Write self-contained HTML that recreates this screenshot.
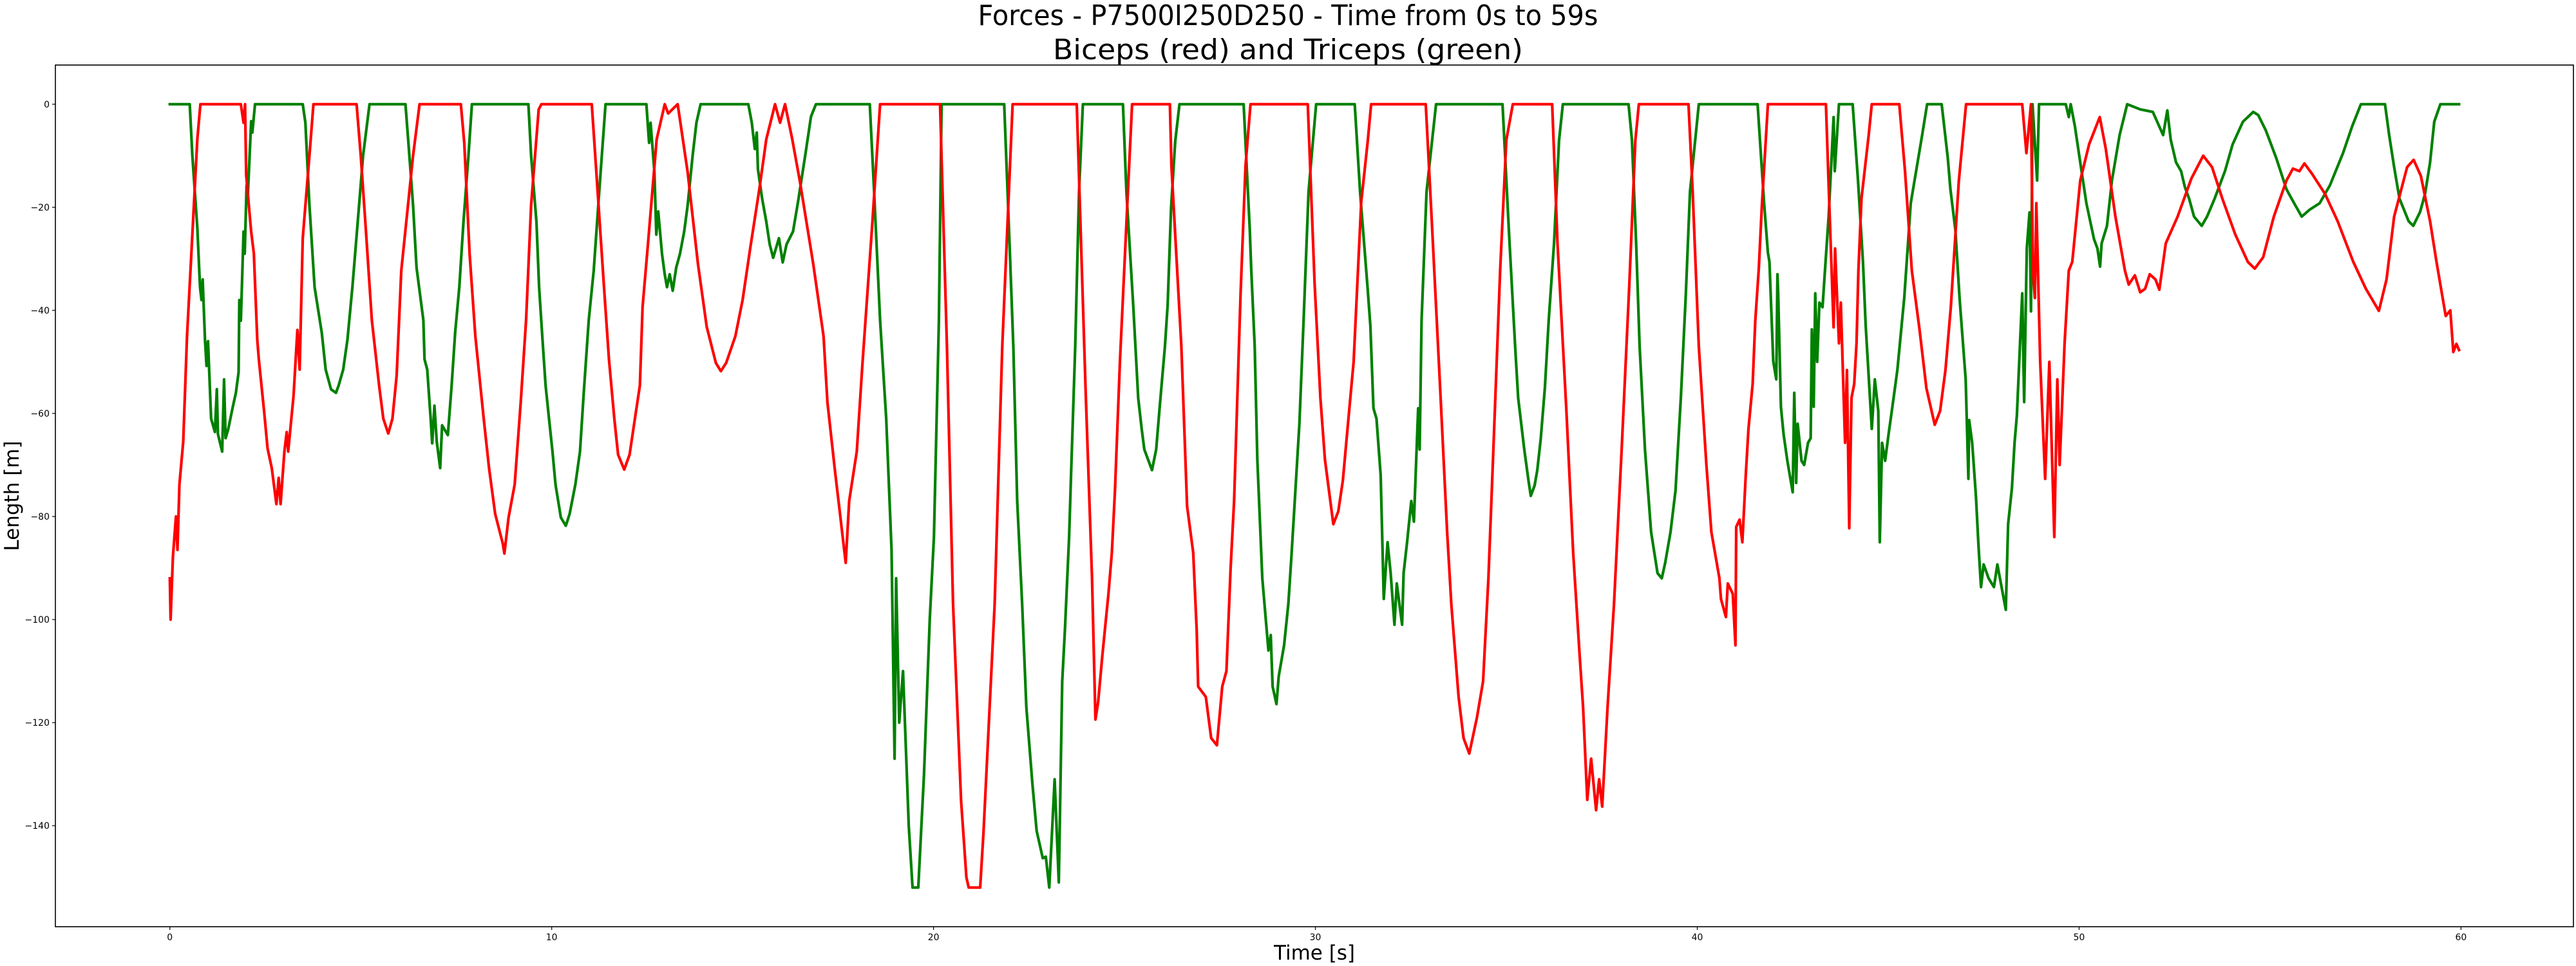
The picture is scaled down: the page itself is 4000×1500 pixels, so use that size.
<!DOCTYPE html>
<html>
<head>
<meta charset="utf-8">
<style>
html,body{margin:0;padding:0;background:#fff;}
svg{display:block;font-family:"DejaVu Sans","Liberation Sans",sans-serif;}
</style>
</head>
<body>
<svg id="chart" width="4000" height="1500" viewBox="0 0 4000 1500" xmlns="http://www.w3.org/2000/svg">
  <rect x="0" y="0" width="4000" height="1500" fill="#fff"/>
  <text x="2000" y="39" text-anchor="middle" font-size="44" textLength="963" lengthAdjust="spacingAndGlyphs">Forces - P7500I250D250 - Time from 0s to 59s</text>
  <text x="2000" y="92" text-anchor="middle" font-size="44" textLength="730" lengthAdjust="spacingAndGlyphs">Biceps (red) and Triceps (green)</text>
  <g id="plot"></g>
  <rect x="86" y="101" width="3910" height="1338" fill="none" stroke="#000" stroke-width="1.6"/>
  <g id="xaxis"></g>
  <g id="yaxis"></g>
  <text x="2041" y="1490" text-anchor="middle" font-size="31">Time [s]</text>
  <text x="0" y="0" text-anchor="middle" font-size="31" transform="translate(29,770) rotate(-90)">Length [m]</text>
</svg>
<script>
const xTicks = [0, 10, 20, 30, 40, 50, 60];
const yTicks = [0, -20, -40, -60, -80, -100, -120, -140];

const triceps = [
[0,0],[0.52,0],[0.59,-10],[0.72,-24],[0.79,-35.5],[0.83,-38],[0.86,-34],[0.92,-45.7],[0.96,-50.8],[1.0,-46],[1.08,-61],[1.18,-63.6],[1.23,-55.3],[1.26,-64],[1.37,-67.4],[1.42,-53.4],[1.46,-64.8],[1.53,-63],[1.64,-59],[1.73,-56],[1.8,-52],[1.82,-38],[1.86,-42],[1.93,-24.7],[1.96,-29],[2.01,-15.7],[2.04,-18],[2.13,-3.3],[2.16,-5.5],[2.23,0],
[3.48,0],[3.55,-3.6],[3.65,-19],[3.79,-35.5],[3.98,-44.4],[4.08,-51.5],[4.22,-55.3],[4.35,-56],[4.42,-54.6],[4.54,-51.5],[4.65,-45.7],[4.78,-35.5],[4.92,-22.8],[5.06,-10],[5.23,0],
[6.17,0],[6.26,-8.7],[6.37,-19.6],[6.46,-31.7],[6.64,-41.9],[6.67,-49.5],[6.74,-51.5],[6.83,-61],[6.87,-65.8],[6.93,-58.5],[6.99,-65.5],[7.08,-70.6],[7.13,-62.3],[7.28,-64.2],[7.38,-54.6],[7.47,-44.4],[7.58,-35.5],[7.69,-22.8],[7.82,-10],[7.91,0],
[9.39,0],[9.46,-10],[9.6,-22.8],[9.67,-35.5],[9.76,-45.7],[9.84,-54.6],[9.93,-61],[10.02,-67.4],[10.1,-73.8],[10.24,-80.2],[10.37,-81.8],[10.47,-79.5],[10.62,-73.8],[10.74,-67.4],[10.84,-55.9],[10.97,-41.9],[11.1,-32.3],[11.25,-16.4],[11.41,0],
[12.48,0],[12.55,-7.5],[12.59,-3.6],[12.69,-13.2],[12.74,-25.3],[12.79,-20.8],[12.89,-29.1],[12.96,-33],[13.02,-35.5],[13.09,-33],[13.17,-36.2],[13.26,-31.7],[13.36,-29],[13.47,-24.7],[13.56,-19.6],[13.69,-10],[13.79,-3.6],[13.9,0],
[15.15,0],[15.24,-3.6],[15.32,-8.7],[15.37,-5.5],[15.4,-12.6],[15.51,-18.3],[15.62,-22.8],[15.71,-27.2],[15.8,-29.8],[15.95,-26],[16.05,-30.7],[16.15,-27.2],[16.32,-24.7],[16.45,-19],[16.65,-9.4],[16.79,-2.4],[16.92,0],
[18.33,0],[18.44,-16.4],[18.6,-41.9],[18.76,-61],[18.9,-86.5],[18.98,-127],[19.02,-92],[19.1,-120],[19.2,-110],[19.35,-140],[19.45,-152],[19.6,-152],[19.75,-130],[19.9,-100],[20.01,-84],[20.14,-42],[20.21,0],
[21.85,0],[21.99,-27],[22.09,-47],[22.19,-77],[22.32,-97],[22.43,-117],[22.59,-132],[22.7,-141],[22.86,-146.3],[22.94,-146],[23.03,-152],[23.17,-131],[23.28,-151],[23.37,-112],[23.44,-102],[23.55,-84],[23.6,-72],[23.71,-47],[23.81,-17],[23.91,0],
[24.96,0],[25.05,-17],[25.23,-39.1],[25.36,-57],[25.45,-63],[25.52,-67],[25.72,-71],[25.83,-67],[25.92,-59],[26.06,-47],[26.13,-39],[26.22,-20.2],[26.33,-7.2],[26.44,0],
[28.12,0],[28.28,-24.2],[28.32,-32],[28.41,-47],[28.48,-69],[28.61,-92],[28.77,-106],[28.83,-103],[28.88,-113],[28.98,-116.4],[29.04,-111],[29.18,-105],[29.29,-97],[29.37,-88],[29.46,-77],[29.58,-62],[29.69,-42],[29.82,-17],[30.02,0],
[31.03,0],[31.17,-17],[31.37,-36],[31.44,-43],[31.52,-59],[31.6,-61],[31.71,-72],[31.79,-96],[31.89,-85],[31.97,-91],[32.07,-101],[32.13,-93],[32.27,-101],[32.31,-91],[32.4,-85],[32.51,-77],[32.58,-81],[32.69,-59],[32.73,-67],[32.78,-42],[32.91,-17],[33.16,0],
[34.9,0],[35.07,-25],[35.23,-47],[35.31,-57],[35.47,-67],[35.58,-73],[35.64,-76],[35.74,-74],[35.81,-71],[35.9,-65],[36.01,-55],[36.11,-42],[36.25,-27],[36.38,-7],[36.48,0],
[38.2,0],[38.29,-7],[38.4,-27],[38.49,-47],[38.63,-67],[38.79,-83],[38.96,-91],[39.07,-92],[39.16,-89],[39.3,-83],[39.43,-75],[39.57,-57],[39.7,-37],[39.81,-17],[40.04,0],
[41.58,0],[41.68,-11.3],[41.75,-19.2],[41.85,-28.8],[41.89,-30.6],[41.99,-49.9],[42.07,-53.4],[42.1,-33],[42.12,-37],[42.19,-58.7],[42.26,-64],[42.36,-69.2],[42.5,-75.3],[42.54,-56],[42.59,-73.5],[42.63,-62],[42.73,-69.2],[42.8,-70],[42.9,-65.7],[42.97,-64.8],[43.0,-43.7],[43.05,-58.7],[43.09,-36.7],[43.14,-50],[43.2,-38.5],[43.28,-39.4],[43.36,-30.6],[43.44,-21.8],[43.57,-2.5],[43.6,-13],[43.71,0],
[44.07,0],[44.21,-14.8],[44.34,-30.6],[44.41,-42.9],[44.57,-63],[44.65,-53.4],[44.74,-59.5],[44.78,-85],[44.84,-65.7],[44.92,-69.2],[45.01,-64],[45.11,-58.7],[45.24,-51.6],[45.42,-37.6],[45.59,-19.2],[45.89,-6],[46.02,0],
[46.4,0],[46.56,-10.4],[46.63,-16.5],[46.76,-24.4],[46.87,-37.6],[47.03,-53.4],[47.1,-72.7],[47.12,-61.3],[47.2,-65.7],[47.3,-76.2],[47.36,-85],[47.43,-93.7],[47.5,-89.3],[47.63,-92],[47.77,-93.7],[47.86,-89.3],[48.08,-98.1],[48.14,-81.5],[48.24,-74.5],[48.31,-65.7],[48.37,-60.4],[48.51,-36.7],[48.56,-57.8],[48.63,-28],[48.7,-21],[48.74,-40.2],[48.78,0],[48.9,-14.8],[48.95,0],
[49.65,0],[49.73,-2.5],[49.78,0],[49.89,-4.3],[50.03,-11.3],[50.19,-19.2],[50.39,-26.2],[50.48,-28],[50.55,-31.5],[50.59,-27],[50.73,-23.6],[50.86,-14.8],[51.06,-6],[51.26,0],[51.6,-1],[51.93,-1.5],[52.2,-6],[52.31,-1.2],[52.4,-6.9],[52.54,-11.3],[52.67,-13],[52.77,-16.1],[52.88,-18.3],[53.01,-21.8],[53.21,-23.6],[53.35,-21.8],[53.55,-18.3],[53.82,-13],[54.02,-7.8],[54.29,-3.4],[54.56,-1.5],[54.69,-2.1],[54.89,-5.1],[55.16,-10.4],[55.43,-16.5],[55.63,-19.2],[55.83,-21.8],[56.03,-20.5],[56.3,-19.2],[56.57,-15.7],[56.91,-9.5],[57.15,-4.3],[57.38,0],
[58.01,0],[58.12,-6],[58.25,-12.2],[58.39,-18.3],[58.63,-22.7],[58.75,-23.6],[58.93,-20.9],[59.06,-17.4],[59.19,-11.3],[59.3,-3.4],[59.46,0],[59.95,0]
];

const biceps = [
[0,-92],[0.02,-100],[0.08,-87.8],[0.16,-80],[0.2,-86.5],[0.25,-73.8],[0.35,-65.5],[0.45,-45],[0.55,-31],[0.72,-6.8],[0.8,0],
[1.86,0],[1.93,-3.6],[1.97,0],[2.0,-13.8],[2.13,-24.7],[2.2,-29],[2.29,-45.7],[2.33,-49.5],[2.47,-59.7],[2.56,-66.8],[2.67,-70.6],[2.79,-77.6],[2.85,-72.5],[2.9,-77.6],[3.0,-67.4],[3.06,-63.6],[3.1,-67.4],[3.24,-56.6],[3.34,-43.8],[3.4,-51.5],[3.48,-26],[3.67,-8.7],[3.76,0],
[4.89,0],[5.0,-10],[5.13,-24],[5.29,-41.9],[5.48,-54.6],[5.59,-61],[5.72,-63.9],[5.83,-61],[5.94,-52.7],[6.06,-32.3],[6.37,-10],[6.54,0],
[7.62,0],[7.71,-7.5],[7.85,-29],[8.0,-45],[8.22,-61],[8.36,-70.6],[8.52,-79.5],[8.72,-85.3],[8.76,-87.2],[8.87,-80.2],[9.03,-73.8],[9.19,-57.8],[9.33,-41.9],[9.46,-19.6],[9.66,-1],[9.73,0],
[11.05,0],[11.14,-10],[11.37,-35.5],[11.5,-49.5],[11.64,-61],[11.74,-68],[11.9,-70.9],[12.04,-68],[12.18,-61],[12.31,-54.6],[12.38,-39.3],[12.52,-27.2],[12.75,-6.8],[12.96,0],[13.05,-1.8],[13.3,0],
[13.56,-13.2],[13.83,-31],[14.06,-43.2],[14.3,-50.2],[14.43,-51.8],[14.57,-50.2],[14.81,-45],[15.0,-38],[15.2,-27.9],[15.44,-16.4],[15.62,-6.8],[15.85,0],[15.98,-3.6],[16.11,0],[16.3,-6.8],[16.5,-15],[16.85,-31],[17.12,-45],[17.22,-57.8],[17.42,-71.2],[17.52,-77.6],[17.7,-89],[17.79,-77],[17.99,-67.4],[18.14,-50.2],[18.4,-22.8],[18.6,0],
[20.17,0],[20.35,-47],[20.51,-97],[20.72,-135],[20.86,-150],[20.92,-152],[21.22,-152],[21.31,-141],[21.6,-97],[21.8,-47],[22.07,0],
[23.75,0],[23.98,-55],[24.15,-92],[24.24,-119.4],[24.31,-116],[24.42,-107],[24.58,-95],[24.67,-87],[24.75,-75],[24.88,-50],[25.09,-17],[25.2,0],
[26.19,0],[26.23,-12],[26.49,-47],[26.64,-78],[26.8,-87],[26.89,-102],[26.93,-113],[27.13,-115],[27.27,-123],[27.42,-124.4],[27.56,-113],[27.67,-110],[27.78,-90],[27.87,-77],[28.04,-37],[28.17,-12],[28.3,0],
[29.8,0],[29.98,-35],[30.13,-57],[30.25,-69],[30.47,-81.5],[30.6,-79],[30.72,-73],[30.84,-63],[31.0,-50],[31.2,-19],[31.37,-7.2],[31.46,0],
[32.89,0],[33.05,-23],[33.28,-57],[33.45,-83],[33.56,-97],[33.75,-115],[33.88,-123],[34.03,-126],[34.23,-119],[34.39,-112],[34.53,-92],[34.66,-67],[34.84,-32],[35.0,-7],[35.17,0],
[36.2,0],[36.34,-27],[36.57,-59],[36.75,-87],[36.92,-107],[37.01,-117],[37.12,-135],[37.22,-127],[37.35,-137],[37.43,-131],[37.51,-136.3],[37.65,-117],[37.82,-97],[38.02,-67],[38.22,-35],[38.38,-7],[38.47,0],
[39.77,0],[39.88,-17],[40.04,-47],[40.24,-70],[40.37,-83],[40.58,-92],[40.62,-96],[40.75,-99.5],[40.8,-93],[40.93,-95],[41.0,-105],[41.02,-82],[41.11,-80.6],[41.18,-85],[41.27,-72],[41.34,-63],[41.45,-54.3],[41.52,-42],[41.61,-32],[41.69,-20],[41.85,0],
[43.37,0],[43.44,-15.7],[43.57,-43.3],[43.61,-28],[43.71,-46.4],[43.76,-38.5],[43.87,-65.7],[43.92,-51.6],[43.98,-82.3],[44.04,-57],[44.11,-54.3],[44.17,-46.4],[44.22,-32.3],[44.3,-18.3],[44.49,-6],[44.57,0],
[45.29,0],[45.44,-13],[45.62,-32.3],[45.82,-43.7],[46.0,-55.1],[46.22,-62.2],[46.36,-59.5],[46.5,-51.6],[46.64,-39.4],[46.85,-14.8],[47.04,0],
[48.51,0],[48.62,-9.5],[48.74,0],[48.79,-32.3],[48.84,-37.6],[48.88,-19.2],[48.98,-50],[49.11,-72.7],[49.22,-50],[49.35,-84],[49.43,-53.4],[49.49,-70],[49.62,-46.4],[49.73,-32.3],[49.82,-30.6],[50.03,-14.8],[50.26,-7.8],[50.54,-2.5],[50.7,-8.7],[50.95,-21.8],[51.2,-32.3],[51.3,-35],[51.46,-33.2],[51.6,-36.5],[51.73,-35.8],[51.85,-33],[52.0,-34],[52.1,-36],[52.27,-27],[52.58,-21.8],[52.94,-14.4],[53.25,-10],[53.48,-12.2],[53.75,-18.3],[54.09,-25.3],[54.42,-30.6],[54.6,-31.9],[54.82,-29.7],[55.1,-21.8],[55.43,-14.8],[55.6,-12.5],[55.77,-13],[55.9,-11.5],[56.1,-13.5],[56.44,-17.4],[56.77,-22.7],[57.18,-30.6],[57.51,-35.8],[57.85,-40.1],[58.05,-34],[58.25,-21.8],[58.59,-12.2],[58.76,-10.8],[58.95,-13.9],[59.19,-22.7],[59.36,-30.6],[59.6,-41.1],[59.72,-40],[59.8,-48.1],[59.88,-46.5],[59.95,-47.7]
];

const X_MIN = -2.9975, X_MAX = 62.945, Y_MIN = -159.6, Y_MAX = 7.6;
const PL = 86, PR = 3996, PT = 101, PB = 1439;
function xScale(t){ return PL + (t - X_MIN) / (X_MAX - X_MIN) * (PR - PL); }
function yScale(v){ return PT + (Y_MAX - v) / (Y_MAX - Y_MIN) * (PB - PT); }

const NS = 'http://www.w3.org/2000/svg';
const plot = document.getElementById('plot');
const xaxis = document.getElementById('xaxis');
const yaxis = document.getElementById('yaxis');

function drawSeries(data, color, name){
  const p = document.createElementNS(NS, 'path');
  let d = '';
  data.forEach((pt, i) => { d += (i ? 'L' : 'M') + xScale(pt[0]).toFixed(1) + ',' + yScale(pt[1]).toFixed(1); });
  p.setAttribute('d', d);
  p.setAttribute('fill', 'none');
  p.setAttribute('stroke', color);
  p.setAttribute('stroke-width', '4.2');
  p.setAttribute('stroke-linejoin', 'round');
  p.setAttribute('stroke-linecap', 'square');
  
  
  plot.appendChild(p);
}
drawSeries(triceps, '#008000', 'triceps-line');
drawSeries(biceps, '#ff0000', 'biceps-line');

xTicks.forEach(t => {
  const x = xScale(t);
  const ln = document.createElementNS(NS, 'line');
  ln.setAttribute('x1', x); ln.setAttribute('x2', x);
  ln.setAttribute('y1', PB); ln.setAttribute('y2', PB + 5);
  ln.setAttribute('stroke', '#000'); ln.setAttribute('stroke-width', '1.2');
  
  
  xaxis.appendChild(ln);
  const tx = document.createElementNS(NS, 'text');
  tx.setAttribute('x', x); tx.setAttribute('y', PB + 21);
  tx.setAttribute('text-anchor', 'middle'); tx.setAttribute('font-size', '14');
  
  
  tx.textContent = String(t);
  xaxis.appendChild(tx);
});

yTicks.forEach(v => {
  const y = yScale(v);
  const ln = document.createElementNS(NS, 'line');
  ln.setAttribute('x1', PL - 5); ln.setAttribute('x2', PL);
  ln.setAttribute('y1', y); ln.setAttribute('y2', y);
  ln.setAttribute('stroke', '#000'); ln.setAttribute('stroke-width', '1.2');
  
  
  yaxis.appendChild(ln);
  const tx = document.createElementNS(NS, 'text');
  tx.setAttribute('x', PL - 9); tx.setAttribute('y', y + 5);
  tx.setAttribute('text-anchor', 'end'); tx.setAttribute('font-size', '14');
  
  
  tx.textContent = v < 0 ? '\u2212' + Math.abs(v) : String(v);
  yaxis.appendChild(tx);
});
</script>
</body>
</html>
